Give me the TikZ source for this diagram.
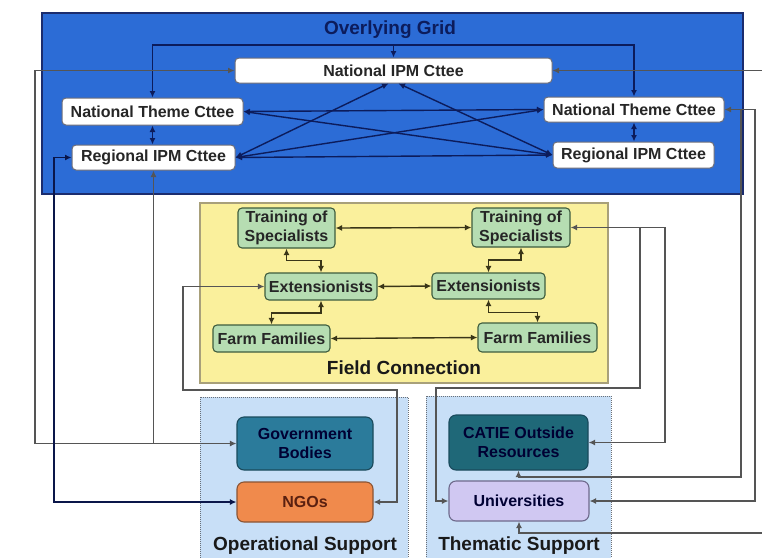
\documentclass[tikz,border=0pt]{standalone}
\usepackage{fontspec}
\setmainfont{Liberation Sans}
\usetikzlibrary{arrows.meta}
\definecolor{gridblue}{HTML}{2C6CD6}
\definecolor{gridedge}{HTML}{1B2C6E}
\definecolor{navy}{HTML}{0C1C5C}
\definecolor{wedge}{HTML}{6E6E78}
\definecolor{fieldfill}{HTML}{FAF09C}
\definecolor{fieldedge}{HTML}{A8A07A}
\definecolor{greenfill}{HTML}{B6DDB2}
\definecolor{greenedge}{HTML}{3E5C3E}
\definecolor{olive}{HTML}{3A3618}
\definecolor{suppfill}{HTML}{C8DFF7}
\definecolor{suppedge}{HTML}{6A7078}
\definecolor{govfill}{HTML}{2B7B9B}
\definecolor{govedge}{HTML}{1A4A5C}
\definecolor{catiefill}{HTML}{1F6878}
\definecolor{ngofill}{HTML}{F08A4C}
\definecolor{ngoedge}{HTML}{8A5434}
\definecolor{ngotext}{HTML}{5A2010}
\definecolor{unifill}{HTML}{D0C8F2}
\definecolor{uniedge}{HTML}{6E6A8C}
\definecolor{outline}{HTML}{555555}
\tikzset{
  >={Latex[length=6.5pt,width=6pt]},
  base/.style={font=\bfseries\fontsize{16}{19}\selectfont, rounded corners=4pt, inner sep=1pt, align=center},
  gridnode/.style={base, draw=wedge, fill=white, line width=1pt, text=black!85},
  fieldnode/.style={base, draw=greenedge, fill=greenfill, line width=1.1pt, text=black!85},
  suppnode/.style={base, line width=1.1pt, rounded corners=7pt, minimum width=136pt},
  titletext/.style={font=\bfseries\fontsize{19}{22}\selectfont},
  gline/.style={draw=navy, line width=1.4pt},
  oline/.style={draw=outline, line width=1.3pt},
  nline/.style={draw=navy!80!black, line width=1.4pt},
  fline/.style={draw=olive, line width=1.4pt},
}
\begin{document}
\begin{tikzpicture}[x=1pt,y=-1pt]
\useasboundingbox (0,0) rectangle (762,557);
\clip (0,0) rectangle (762,557);
\fill[white] (0,0) rectangle (762,557);
% boxes
\draw[fill=gridblue, draw=gridedge, line width=1.5pt] (42,13) rectangle (743,194);
\draw[fill=fieldfill, draw=fieldedge, line width=1.5pt] (200,203) rectangle (608,383);
\draw[fill=suppfill, draw=suppedge, densely dotted, line width=1pt] (200,397) rectangle (408,575);
\draw[fill=suppfill, draw=suppedge, densely dotted, line width=1pt] (426,396) rectangle (611,575);
% titles
\node[titletext, text=navy] (tgrid) at (390,30) {Overlying Grid};
\node[titletext, text=black!90] (tfield) at (404,368) {Field Connection};
\node[titletext, text=black!90] (topsup) at (305,546) {Operational Support};
\node[titletext, text=black!90] (tthem) at (519,546) {Thematic Support};
% grid nodes
\node[gridnode, minimum width=317pt, minimum height=25pt] (nipm) at (393.5,70.5) {National IPM Cttee};
\node[gridnode, minimum width=181pt, minimum height=27pt] (ntcL) at (152.5,111.5) {National Theme Cttee};
\node[gridnode, minimum width=163pt, minimum height=25pt] (ripmL) at (153.5,157.5) {Regional IPM Cttee};
\node[gridnode, minimum width=180pt, minimum height=25pt] (ntcR) at (634,109.5) {National Theme Cttee};
\node[gridnode, minimum width=161pt, minimum height=26pt] (ripmR) at (633.5,155) {Regional IPM Cttee};
% field nodes
\node[fieldnode, minimum width=97pt, minimum height=40pt] (trL) at (286.5,228) {Training of\\Specialists};
\node[fieldnode, minimum width=98pt, minimum height=39pt] (trR) at (521,227.5) {Training of\\Specialists};
\node[fieldnode, minimum width=112pt, minimum height=27pt] (extL) at (321,286.5) {Extensionists};
\node[fieldnode, minimum width=113pt, minimum height=26pt] (extR) at (488.5,286) {Extensionists};
\node[fieldnode, minimum width=117pt, minimum height=27pt] (farmL) at (271.5,338.5) {Farm Families};
\node[fieldnode, minimum width=119pt, minimum height=29pt] (farmR) at (537.5,337.5) {Farm Families};
% support nodes
\node[suppnode, draw=govedge, fill=govfill, text=black!80!blue, minimum height=53pt] (gov) at (305,443.5) {Government\\Bodies};
\node[suppnode, draw=ngoedge, fill=ngofill, text=ngotext, minimum height=40pt] (ngo) at (305,502) {NGOs};
\node[suppnode, draw=govedge, fill=catiefill, text=black!80!blue, minimum width=139pt, minimum height=55pt] (catie) at (518.5,442.5) {CATIE Outside\\Resources};
\node[suppnode, draw=uniedge, fill=unifill, text=black!80!blue, minimum width=140pt, minimum height=40pt] (uni) at (519,501) {Universities};
% coordinates
\coordinate (busL) at (152.5,45);
\coordinate (busR) at (634,45);
\coordinate (lA) at (35,443.5);
\coordinate (lB) at (54,502);
\coordinate (eA) at (183,390);
\coordinate (eB) at (397,390);
\coordinate (tA) at (665,442.5);
\coordinate (tB) at (640,388);
\coordinate (tC) at (436,388);
\coordinate (nA) at (741,477);
\coordinate (nB) at (755,501);
\coordinate (eR1) at (762,70.5);
\coordinate (eR2) at (762,533);
% grid connectors
\draw[gline,<->] (ntcL.north) -- (busL) -- (busR) -- (ntcR.north);
\draw[gline,->] (nipm.north |- busL) -- (nipm.north);
\draw[gline,<->] (ntcL.south) -- (ntcL.south |- ripmL.north);
\draw[gline,<->] (ntcR.south) -- (ntcR.south |- ripmR.north);
\draw[gline,<->] (ntcL.east) -- (ntcR.west);
\draw[gline,<->] (ripmL.east) -- (ripmR.west);
\draw[gline,<->] (ntcL.east) -- (ripmR.west);
\draw[gline,<->] (ripmL.east) -- (ntcR.west);
\draw[gline,<->] ([xshift=-5pt]nipm.south) -- (ripmL.east);
\draw[gline,<->] ([xshift=5pt]nipm.south) -- (ripmR.west);
% outer connectors
\draw[oline,<->] (nipm.west) -| (lA) -- (gov.west);
\draw[oline,->] (gov.west -| ripmL.south) -- (ripmL.south);
\draw[nline,<->] (ripmL.west) -| (lB) -- (ngo.west);
\draw[oline,<->] (extL.west) -| (eA) -- (eB) |- (ngo.east);
\draw[oline,<->] (trR.east) -| (tA) -- (catie.east);
\draw[oline,->] (trR.east -| tB) -- (tB) -- (tC) |- (uni.west);
\draw[oline,<->] (ntcR.east) -| (nB) -- (uni.east);
\draw[oline,->] (ntcR.east -| nA) -- (nA) -- (nA -| catie.south) -- (catie.south);
\draw[oline,->] (eR1) -- (nipm.east);
\draw[oline,->] (eR2) -| (uni.south);
% field connectors
\draw[fline,<->] (trL.east) -- (trR.west);
\draw[fline,<->] (extL.east) -- (extR.west);
\draw[fline,<->] (farmL.east) -- (farmR.west);
\draw[fline,<->] (trL.south) -- ++(0,12) -| (extL.north);
\draw[fline,<->] (extL.south) -- ++(0,12.5) -| (farmL.north);
\draw[fline,<->] (trR.south) -- ++(0,12.5) -| (extR.north);
\draw[fline,<->] (extR.south) -- ++(0,13) -| (farmR.north);
\end{tikzpicture}
\end{document}
